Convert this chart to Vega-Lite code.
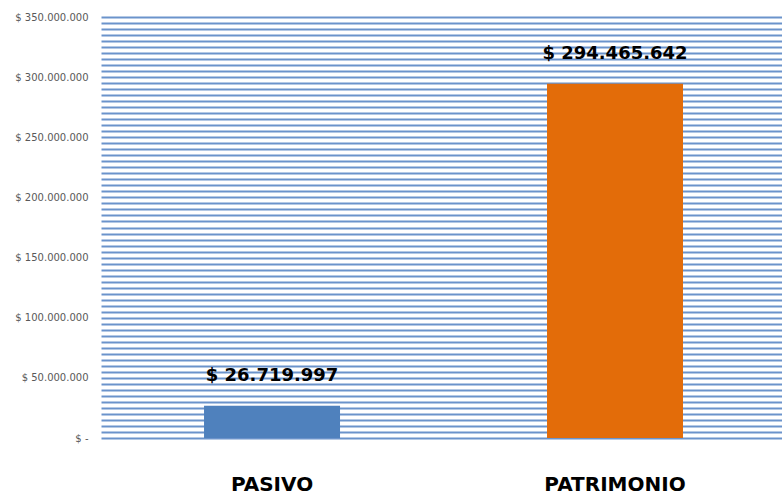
{
  "$schema": "https://vega.github.io/schema/vega-lite/v6.json",
  "width": 681,
  "height": 421,
  "autosize": {"type": "none"},
  "padding": {"left": 101, "top": 17, "right": 0, "bottom": 59},
  "background": "white",
  "config": {
    "locale": {"number": {"decimal": ",", "thousands": ".", "grouping": [3], "currency": ["$ ", ""]}},
    "view": {"stroke": null},
    "font": "DejaVu Sans"
  },
  "data": {
    "values": [
      {"categoria": "PASIVO", "valor": 26719997, "etiqueta": "$ 26.719.997"},
      {"categoria": "PATRIMONIO", "valor": 294465642, "etiqueta": "$ 294.465.642"}
    ]
  },
  "encoding": {
    "x": {
      "field": "categoria",
      "type": "nominal",
      "sort": null,
      "scale": {"paddingInner": 0.6035, "paddingOuter": 0.2945, "align": 0.51},
      "axis": {
        "title": null,
        "labelAngle": 0,
        "labelFont": "DejaVu Sans",
        "labelFontSize": 20,
        "labelFontWeight": "bold",
        "labelColor": "#000000",
        "labelPadding": 36,
        "ticks": false,
        "domain": false
      }
    },
    "y": {
      "field": "valor",
      "type": "quantitative",
      "scale": {"domain": [0, 350000000], "nice": false},
      "axis": {
        "title": null,
        "values": [0,5000000,10000000,15000000,20000000,25000000,30000000,35000000,40000000,45000000,50000000,55000000,60000000,65000000,70000000,75000000,80000000,85000000,90000000,95000000,100000000,105000000,110000000,115000000,120000000,125000000,130000000,135000000,140000000,145000000,150000000,155000000,160000000,165000000,170000000,175000000,180000000,185000000,190000000,195000000,200000000,205000000,210000000,215000000,220000000,225000000,230000000,235000000,240000000,245000000,250000000,255000000,260000000,265000000,270000000,275000000,280000000,285000000,290000000,295000000,300000000,305000000,310000000,315000000,320000000,325000000,330000000,335000000,340000000,345000000,350000000],
        "format": ",.0f",
        "labelExpr": "datum.value == 0 ? '$ -' : (datum.value % 50000000 == 0 ? '$ ' + datum.label : '')",
        "labelOverlap": false,
        "labelFont": "DejaVu Sans",
        "labelFontSize": 10,
        "labelColor": "#595959",
        "labelPadding": 13,
        "ticks": false,
        "domain": false,
        "grid": true,
        "gridColor": "#6b93cb",
        "gridWidth": 2,
        "gridOpacity": 1
      }
    }
  },
  "layer": [
    {
      "mark": {"type": "bar"},
      "encoding": {
        "color": {
          "field": "categoria",
          "type": "nominal",
          "scale": {"domain": ["PASIVO", "PATRIMONIO"], "range": ["#4f81bd", "#e36c09"]},
          "legend": null
        }
      }
    },
    {
      "mark": {"type": "text", "baseline": "middle", "dy": -30, "font": "DejaVu Sans", "fontSize": 18, "fontWeight": "bold", "color": "#000000"},
      "encoding": {"text": {"field": "etiqueta", "type": "nominal"}}
    }
  ]
}
